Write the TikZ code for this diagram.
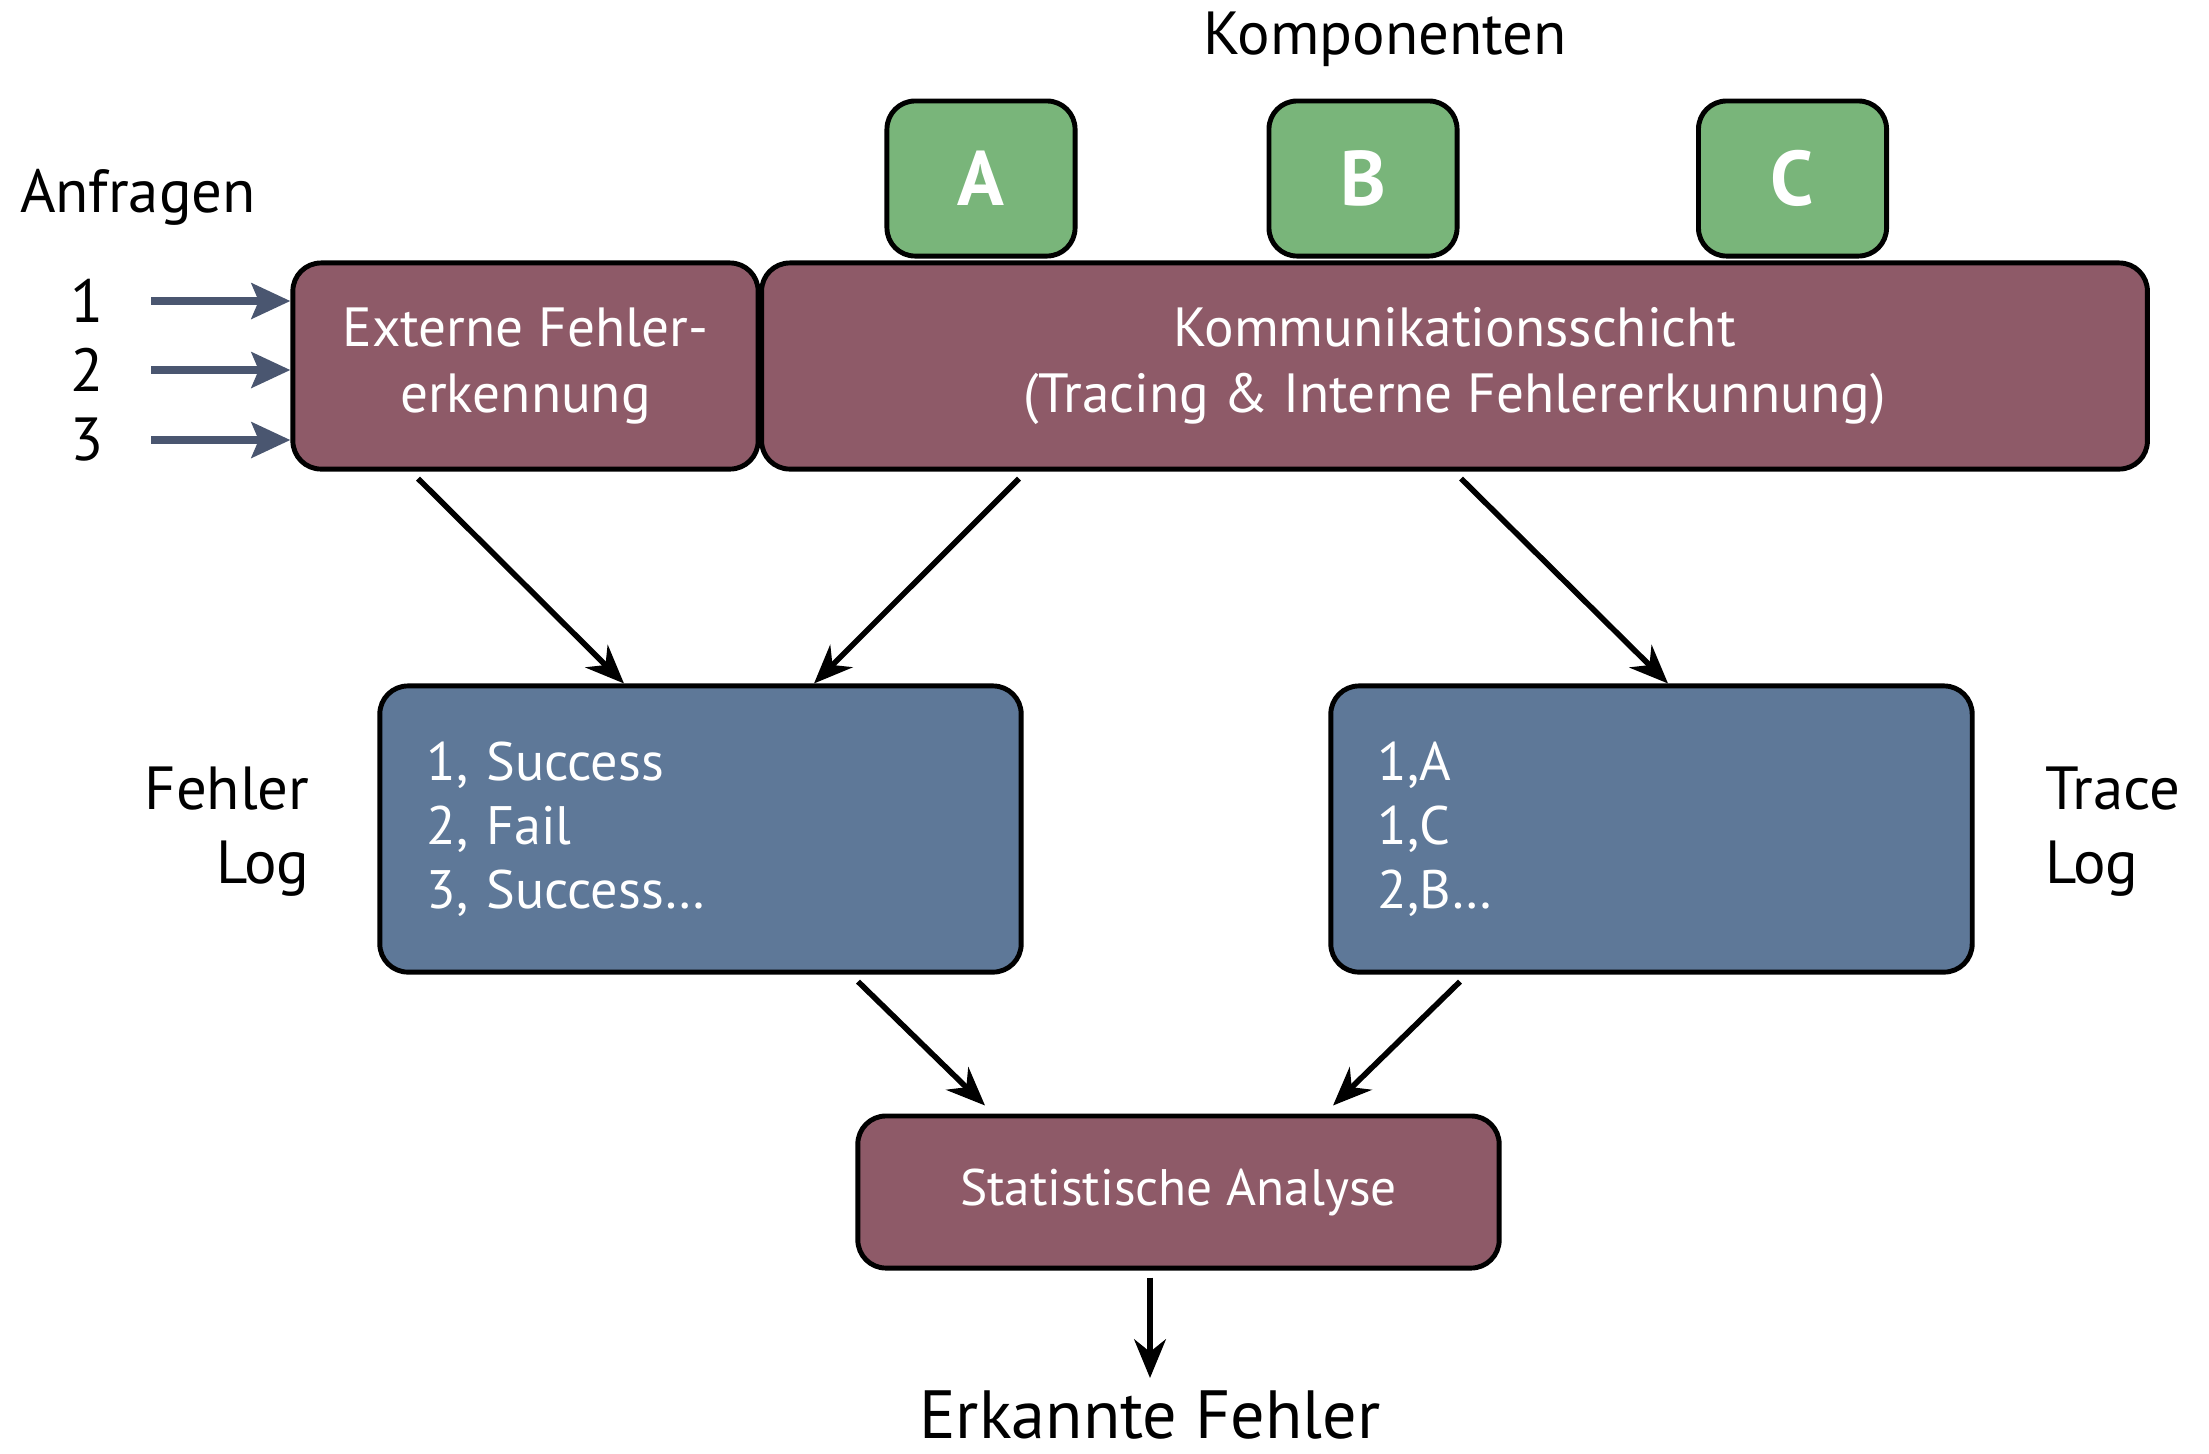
\documentclass[tikz,border=0pt]{standalone}
\usepackage{fontspec}
\setmainfont{PT Sans}
\usetikzlibrary{calc,positioning,arrows.meta}
\definecolor{weinrot}{HTML}{8E5A68}
\definecolor{taubenblau}{HTML}{5E7898}
\definecolor{blattgruen}{HTML}{79B57A}
\definecolor{schiefer}{HTML}{4A5670}
\tikzset{
  kasten/.style={draw=black,line width=1.4pt,rounded corners=8pt,text=white,inner sep=0pt,align=center,font=\fontsize{15.7}{19}\selectfont},
  rotkasten/.style={kasten,fill=weinrot},
  blaukasten/.style={kasten,fill=taubenblau,align=left,text width=5.47cm,minimum width=6.41cm,minimum height=2.86cm,font=\fontsize{15.4}{18.2}\selectfont},
  gruenkasten/.style={kasten,fill=blattgruen,minimum width=1.88cm,minimum height=1.55cm,font=\fontsize{22}{24}\selectfont\bfseries},
  pfeil/.style={line width=1.6pt,-{Stealth[length=11pt,width=9pt]}},
  eingang/.style={schiefer,line width=2.4pt,-{Stealth[length=11pt,width=10pt,inset=2pt]}},
  beschriftung/.style={font=\fontsize{17.3}{21}\selectfont}
}
\begin{document}
\begin{tikzpicture}[x=0.01cm,y=-0.01cm]
\useasboundingbox (0,0) rectangle (2209,1453);
% obere Reihe
\node[beschriftung] (komponenten) at (1385,39) {Komponenten};
\node[gruenkasten] (kompA) at (981,178.5) {A};
\node[gruenkasten] (kompB) at (1363,178.5) {B};
\node[gruenkasten] (kompC) at (1792.5,178.5) {C};
\node[beschriftung] (anfragen) at (138,197) {Anfragen};
\node[rotkasten,minimum width=4.65cm,minimum height=2.06cm] (extern) at (525.5,366) {Externe Fehler-\\erkennung};
\node[rotkasten,minimum width=13.85cm,minimum height=2.06cm] (komm) at (1454.5,366) {Kommunikationsschicht\\(Tracing \& Interne Fehlererkunnung)};
\foreach \n/\y in {1/301,2/370,3/440}{
  \node[beschriftung] (nr\n) at (87,\y) {\n};
  \coordinate (ein\n) at (151,\y);
  \draw[eingang] (ein\n) -- (ein\n -| extern.west);
}
% Logs
\node[blaukasten] (fehlerlog) at (700.5,829) {1, Success\\2, Fail\\3, Success\dots};
\node[blaukasten] (tracelog) at (1651.5,829) {1,A\\1,C\\2,B\dots};
\node[beschriftung,align=right,anchor=east] (fehlerlabel) at (322,832) {Fehler\\Log};
\node[beschriftung,align=left,anchor=west] (tracelabel) at (2033,832) {Trace\\Log};
\node[rotkasten,minimum width=6.41cm,minimum height=1.52cm,font=\fontsize{14.6}{18}\selectfont] (statistik) at (1178.5,1192) {Statistische Analyse};
\node[font=\fontsize{19.4}{23}\selectfont,anchor=north] (erkannt) at (1150,1378) {Erkannte Fehler};
\draw[pfeil] ($(extern.south)+(-107.5,7)$) -- ($(fehlerlog.north)+(-76.5,0)$);
\draw[pfeil] ($(komm.south)+(-435.5,7)$) -- ($(fehlerlog.north)+(113.5,0)$);
\draw[pfeil] ($(komm.south)+(6.5,7)$) -- ($(tracelog.north)+(16.5,0)$);
\draw[pfeil] ($(fehlerlog.south)+(157.5,7)$) -- ($(statistik.north)+(-193.5,-8)$);
\draw[pfeil] ($(tracelog.south)+(-191.5,7)$) -- ($(statistik.north)+(154.5,-8)$);
\draw[pfeil] ($(statistik.south)+(-28.5,7)$) -- (erkannt.north);
\end{tikzpicture}
\end{document}
